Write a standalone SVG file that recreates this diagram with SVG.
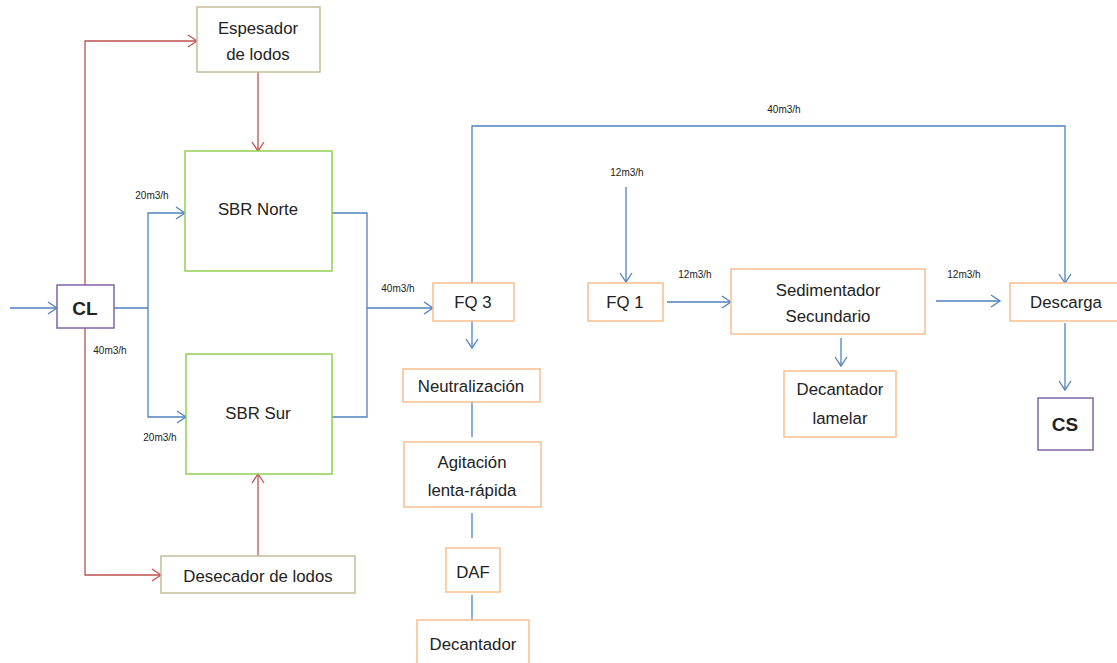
<svg xmlns="http://www.w3.org/2000/svg" width="1117" height="663" viewBox="0 0 1117 663">
<defs>
<marker id="ab" markerUnits="userSpaceOnUse" markerWidth="14" markerHeight="14" refX="11" refY="7" orient="auto"><path d="M2,1 L11,7 L2,13" fill="none" stroke="#4f81bd" stroke-width="1.3"/></marker>
<marker id="ar" markerUnits="userSpaceOnUse" markerWidth="14" markerHeight="14" refX="11" refY="7" orient="auto"><path d="M2,1 L11,7 L2,13" fill="none" stroke="#c0504d" stroke-width="1.3"/></marker>
</defs>
<style>
.b{fill:none;stroke:#4f81bd;stroke-width:1.3}
.r{fill:none;stroke:#c0504d;stroke-width:1.3}
.ba{marker-end:url(#ab)}
.ra{marker-end:url(#ar)}
.g rect{fill:#fff;stroke:#92d050;stroke-width:1.5}
.o rect{fill:#fff;stroke:#f9be8f;stroke-width:1.5}
.t rect{fill:#fff;stroke:#c4bd97;stroke-width:1.5}
.p rect{fill:#fff;stroke:#8064a2;stroke-width:1.5}
text{font-family:"Liberation Sans",Arial,sans-serif;fill:#222;text-anchor:middle}
.n{font-size:16.8px}
.s{font-size:10px}
.k{font-size:19px;font-weight:bold}
</style>
<rect width="1117" height="663" fill="#fff"/>
<g id="connectors">
<path class="b ba" d="M10,308 H57"/>
<path class="r ra" d="M85,285 V41 H197"/>
<path class="r ra" d="M258,72 V151"/>
<path class="r ra" d="M85,328 V575 H161"/>
<path class="r ra" d="M258,556 V474"/>
<path class="b" d="M114,308 H148"/>
<path class="b ba" d="M148,308 V213 H185"/>
<path class="b ba" d="M148,308 V417 H186"/>
<path class="b" d="M332,213 H367 V417 H332"/>
<path class="b ba" d="M367,308 H433"/>
<path class="b ba" d="M472,283 V126 H1065 V283"/>
<path class="b ba" d="M472,321 V348"/>
<path class="b" d="M472,402 V437"/>
<path class="b" d="M472,513 V538"/>
<path class="b" d="M472,595 V620"/>
<path class="b ba" d="M626,187 V282"/>
<path class="b ba" d="M667,302 H731"/>
<path class="b ba" d="M936,301 H1000"/>
<path class="b ba" d="M841,338 V366"/>
<path class="b ba" d="M1065,323 V390"/>
<text class="s" x="152" y="199">20m3/h</text>
<text class="s" x="110" y="354">40m3/h</text>
<text class="s" x="160" y="441">20m3/h</text>
<text class="s" x="398" y="292">40m3/h</text>
<text class="s" x="784" y="113">40m3/h</text>
<text class="s" x="627" y="176">12m3/h</text>
<text class="s" x="695" y="278">12m3/h</text>
<text class="s" x="964" y="278">12m3/h</text>
</g>
<g id="espesador" class="t"><rect x="197" y="7" width="123" height="65"/><text class="n" x="258" y="34">Espesador</text><text class="n" x="258" y="60">de lodos</text></g>
<g id="sbr-norte" class="g"><rect x="185" y="151" width="147" height="120"/><text class="n" x="258" y="215">SBR Norte</text></g>
<g id="cl" class="p"><rect x="57" y="285" width="57" height="43"/><text class="k" x="85" y="315">CL</text></g>
<g id="sbr-sur" class="g"><rect x="186" y="354" width="146" height="120"/><text class="n" x="258" y="419">SBR Sur</text></g>
<g id="desecador" class="t"><rect x="161" y="556" width="194" height="37"/><text class="n" x="258" y="582">Desecador de lodos</text></g>
<g id="fq3" class="o"><rect x="433" y="283" width="81" height="38"/><text class="n" x="473" y="308">FQ 3</text></g>
<g id="neutralizacion" class="o"><rect x="403" y="369" width="137" height="33"/><text class="n" x="471" y="392">Neutralización</text></g>
<g id="agitacion" class="o"><rect x="404" y="442" width="137" height="65"/><text class="n" x="472" y="468">Agitación</text><text class="n" x="472" y="496">lenta-rápida</text></g>
<g id="daf" class="o"><rect x="446" y="548" width="54" height="44"/><text class="n" x="473" y="578">DAF</text></g>
<g id="decantador" class="o"><rect x="417" y="620" width="112" height="45"/><text class="n" x="473" y="650">Decantador</text></g>
<g id="fq1" class="o"><rect x="588" y="283" width="75" height="38"/><text class="n" x="625" y="308">FQ 1</text></g>
<g id="sedimentador" class="o"><rect x="731" y="269" width="194" height="65"/><text class="n" x="828" y="296">Sedimentador</text><text class="n" x="828" y="322">Secundario</text></g>
<g id="decantador-lamelar" class="o"><rect x="784" y="371" width="112" height="66"/><text class="n" x="840" y="395">Decantador</text><text class="n" x="840" y="424">lamelar</text></g>
<g id="descarga" class="o"><rect x="1010" y="283" width="115" height="38"/><text class="n" x="1066" y="308">Descarga</text></g>
<g id="cs" class="p"><rect x="1038" y="398" width="55" height="52"/><text class="k" x="1065" y="431">CS</text></g>
</svg>
